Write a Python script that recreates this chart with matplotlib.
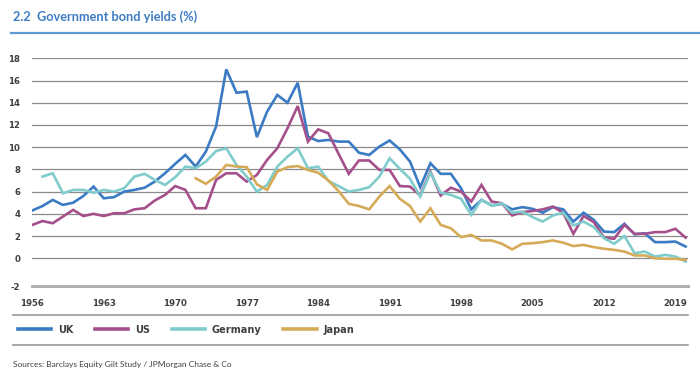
import matplotlib
matplotlib.use("Agg")
import matplotlib.pyplot as plt
from matplotlib.lines import Line2D
import numpy as np

# Dados (rendimentos anuais, %)
anos = list(range(1956, 2021))

uk = [4.3, 4.7, 5.25, 4.8, 5.0, 5.6, 6.45, 5.4, 5.5, 6.0,
      6.15, 6.35, 6.9, 7.65, 8.5, 9.3, 8.25, 9.6, 11.85, 17.0,
      14.9, 15.0, 10.9, 13.2, 14.7, 14.0, 15.8, 10.95, 10.55, 10.65,
      10.5, 10.5, 9.5, 9.3, 10.05, 10.6, 9.8, 8.7, 6.4, 8.55,
      7.6, 7.6, 6.3, 4.4, 5.25, 4.75, 4.9, 4.4, 4.6, 4.45,
      4.1, 4.6, 4.4, 3.3, 4.1, 3.45, 2.4, 2.35, 3.1, 2.15,
      2.25, 1.45, 1.45, 1.5, 1.05]

us = [3.0, 3.35, 3.15, 3.75, 4.35, 3.8, 4.0, 3.8, 4.05, 4.05,
      4.4, 4.5, 5.2, 5.7, 6.5, 6.15, 4.5, 4.5, 7.05, 7.65,
      7.65, 6.9, 7.5, 8.85, 9.9, 11.7, 13.7, 10.5, 11.6, 11.25,
      9.4, 7.6, 8.8, 8.8, 7.95, 7.95, 6.5, 6.45, 5.65, 7.8,
      5.65, 6.35, 6.0, 5.1, 6.6, 5.1, 4.95, 3.85, 4.15, 4.25,
      4.4, 4.65, 4.1, 2.2, 3.8, 3.25, 1.85, 1.75, 3.0, 2.2,
      2.2, 2.35, 2.35, 2.65, 1.85]

alemanha = [None, 7.35, 7.65, 5.85, 6.15, 6.15, 5.9, 6.15, 6.0, 6.3,
            7.35, 7.6, 7.05, 6.6, 7.3, 8.25, 8.1, 8.7, 9.65, 9.9,
            8.4, 7.35, 6.0, 6.6, 8.25, 9.15, 9.9, 8.1, 8.25, 6.95,
            6.5, 6.0, 6.15, 6.4, 7.35, 9.0, 8.05, 7.15, 5.55, 7.7,
            5.9, 5.7, 5.35, 3.9, 5.25, 4.75, 4.95, 4.1, 4.2, 3.7,
            3.3, 3.85, 4.1, 2.95, 3.3, 2.8, 1.8, 1.3, 2.0, 0.45,
            0.6, 0.15, 0.3, 0.15, -0.3]

japao = [None] * 16 + [
         7.2, 6.7, 7.35, 8.4, 8.25, 8.2, 6.65, 6.15, 7.8, 8.2,
         8.3, 7.95, 7.7, 7.0, 6.05, 4.9, 4.7, 4.4, 5.55, 6.5,
         5.35, 4.7, 3.3, 4.5, 3.0, 2.7, 1.9, 2.1, 1.6, 1.6,
         1.3, 0.8, 1.3, 1.35, 1.45, 1.6, 1.4, 1.1, 1.2, 1.0,
         0.85, 0.75, 0.6, 0.25, 0.25, 0.0, -0.05, -0.05, -0.15]

series = ["UK", "US", "Germany", "Japan"]
valores = [uk, us, alemanha, japao]
cores = ["#3a7bc4", "#a5508b", "#80cccc", "#d5ab58"]

yticks = [0, 2, 4, 6, 8, 10, 12, 14, 16, 18]
xticks = [1956, 1963, 1970, 1977, 1984, 1991, 1998, 2005, 2012, 2019]

# fonte estreita (tipo Arial Narrow)
fonte_eixos = {"family": ["Liberation Sans Narrow", "DejaVu Sans"],
               "stretch": "condensed", "size": 6.8, "weight": "bold",
               "color": "#404040"}
fonte_texto = ["Lato", "DejaVu Sans"]

fig = plt.figure(figsize=(7, 3.78), dpi=100)
ax = fig.add_axes([32 / 700, 92 / 378, 656 / 700, 227.7 / 378])

for nome, vals, cor in zip(series, valores, cores):
    ax.plot(anos, np.array(vals, dtype=float), color=cor, lw=1.9,
            label=nome, solid_joinstyle="miter")

ax.set_xlim(1955.97, 2020.23)
ax.set_ylim(-2.5, 18)
for y in yticks:
    ax.axhline(y, color="#8a8a8a", lw=0.9, zorder=0)
ax.axhline(-2.5, color="#b0b0b0", lw=2.2, zorder=0, clip_on=False)

for s in ax.spines.values():
    s.set_visible(False)
ax.set_yticks(yticks + [-2.5])
ax.set_yticklabels([str(v) for v in yticks] + ["-2"], fontdict=fonte_eixos)
ax.set_xticks(xticks)
ax.set_xticklabels([str(v) for v in xticks], fontdict=fonte_eixos)
ax.tick_params(axis="y", length=0, pad=8.5)
ax.tick_params(axis="x", length=0, pad=9)

# titulo e linha azul
fig.text(13 / 700, 1 - 17 / 378, "2.2  Government bond yields (%)",
         family=fonte_texto, weight="bold", size=9.2, color="#3d7cc2",
         va="center", ha="left")
fig.add_artist(Line2D([11 / 700, 1], [1 - 33 / 378] * 2, color="#5d9ad3", lw=1.6))

# linhas de separacao
for yy in [315, 345]:
    fig.add_artist(Line2D([13 / 700, 688 / 700], [1 - yy / 378] * 2,
                          color="#9a9a9a", lw=1.2))

# legenda
handles, labels = ax.get_legend_handles_labels()
leg = fig.legend(handles, labels, loc="center left",
                 bbox_to_anchor=(8 / 700, 1 - 330 / 378), ncol=4,
                 frameon=False, handlelength=3.1, handletextpad=0.6,
                 columnspacing=2.0,
                 prop={"family": ["Liberation Sans Narrow", "DejaVu Sans"],
                       "stretch": "condensed", "size": 7.8, "weight": "bold"})
for t in leg.get_texts():
    t.set_color("#404040")
for l in leg.get_lines():
    l.set_linewidth(2.6)

fig.text(13 / 700, 1 - 364 / 378,
         "Sources: Barclays Equity Gilt Study / JPMorgan Chase & Co",
         family=fonte_texto, size=6, color="#404040", va="center", ha="left")

plt.savefig("out.png", dpi=100)
